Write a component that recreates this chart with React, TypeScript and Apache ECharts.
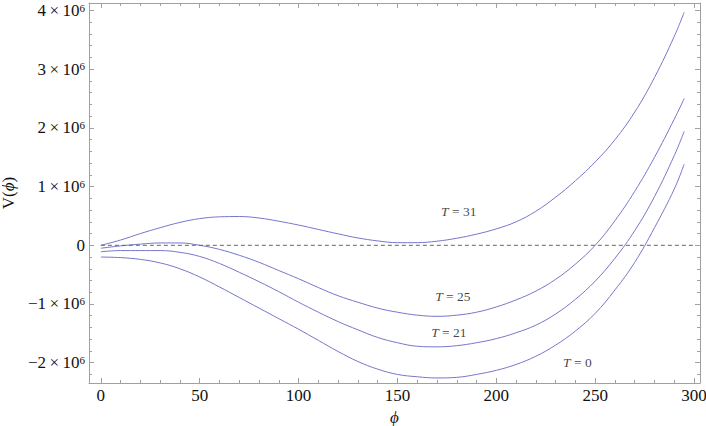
import { useEffect, useRef } from "react";
import * as echarts from "echarts";

// φ sample positions
const PHI = [0, 10, 20, 30, 40, 50, 60, 70, 80, 90, 100, 110, 120, 130, 140, 150, 160, 170, 180, 190, 200, 210, 220, 230, 240, 250, 260, 270, 280, 290, 295];
// V(φ) in units of 10^6
const V_T31 = [0.0, 0.09, 0.2, 0.3, 0.39, 0.455, 0.485, 0.49, 0.465, 0.41, 0.345, 0.27, 0.195, 0.125, 0.075, 0.045, 0.045, 0.07, 0.12, 0.19, 0.28, 0.4, 0.58, 0.82, 1.1, 1.42, 1.8, 2.27, 2.86, 3.56, 3.97];
const V_T25 = [-0.05, -0.01, 0.02, 0.04, 0.04, 0.0, -0.07, -0.17, -0.29, -0.43, -0.57, -0.72, -0.86, -0.97, -1.07, -1.14, -1.19, -1.21, -1.19, -1.14, -1.05, -0.93, -0.78, -0.58, -0.32, 0.0, 0.42, 0.92, 1.5, 2.15, 2.5];
const V_T21 = [-0.11, -0.09, -0.09, -0.09, -0.12, -0.19, -0.31, -0.46, -0.62, -0.79, -0.97, -1.14, -1.3, -1.44, -1.57, -1.66, -1.72, -1.73, -1.71, -1.66, -1.59, -1.49, -1.36, -1.17, -0.92, -0.61, -0.22, 0.25, 0.83, 1.53, 1.94];
const V_T0 = [-0.2, -0.21, -0.24, -0.3, -0.4, -0.54, -0.71, -0.89, -1.07, -1.25, -1.43, -1.62, -1.81, -1.98, -2.11, -2.2, -2.24, -2.26, -2.25, -2.2, -2.13, -2.03, -1.89, -1.7, -1.46, -1.16, -0.76, -0.29, 0.3, 0.96, 1.38];
const SCALE = 1e6;

const CURVES = [V_T31, V_T25, V_T21, V_T0];
const CURVE_T = ["31", "25", "21", "0"];
const LABEL_PHI = [181, 178, 176, 241];
const LABEL_V = [0.57, -0.87, -1.49, -2.0];

const ZERO_LINE_PHI = [0, 300];

const X_MIN = -6;
const X_MAX = 303;
const Y_MIN = -2.346;
const Y_MAX = 4.128;

const X_TICKS = [0, 50, 100, 150, 200, 250, 300];
const X_MINOR = [10, 20, 30, 40, 60, 70, 80, 90, 110, 120, 130, 140, 160, 170, 180, 190, 210, 220, 230, 240, 260, 270, 280, 290];
const Y_TICKS = [-2, -1, 0, 1, 2, 3, 4];
const Y_MINOR = [-2.2, -1.8, -1.6, -1.4, -1.2, -0.8, -0.6, -0.4, -0.2, 0.2, 0.4, 0.6, 0.8, 1.2, 1.4, 1.6, 1.8, 2.2, 2.4, 2.6, 2.8, 3.2, 3.4, 3.6, 3.8];

const SERIF = "Liberation Serif";
const FRAME = "#a0a0a0";
const CURVE_COLOR = "#7676cc";
const INK = "#111";

export default function App() {
  const ref = useRef<HTMLDivElement>(null);

  useEffect(() => {
    if (!ref.current) return;
    const chart = echarts.init(ref.current, undefined, { renderer: "svg" });

    const xAxisBase = (position: "bottom" | "top", values: number[], len: number, showLine: boolean) => ({
      type: "value",
      position,
      min: X_MIN,
      max: X_MAX,
      axisLine: { show: showLine, onZero: false, lineStyle: { color: FRAME, width: 1 } },
      axisTick: { show: true, inside: true, length: len, customValues: values, lineStyle: { color: FRAME, width: 1 } },
      axisLabel: { show: false, customValues: values },
      splitLine: { show: false },
    });
    const yAxisBase = (position: "left" | "right", values: number[], len: number, showLine: boolean) => ({
      type: "value",
      position,
      min: Y_MIN * SCALE,
      max: Y_MAX * SCALE,
      axisLine: { show: showLine, onZero: false, lineStyle: { color: FRAME, width: 1 } },
      axisTick: { show: true, inside: true, length: len, customValues: values.map((v) => v * SCALE), lineStyle: { color: FRAME, width: 1 } },
      axisLabel: { show: false, customValues: values.map((v) => v * SCALE) },
      splitLine: { show: false },
    });

    const mainX: any = xAxisBase("bottom", X_TICKS, 5, true);
    mainX.axisLabel = {
      show: true,
      customValues: X_TICKS,
      fontFamily: SERIF,
      fontSize: 17,
      color: INK,
      margin: 4,
    };
    mainX.name = "ϕ";
    mainX.nameLocation = "middle";
    mainX.nameGap = 16;
    mainX.nameTextStyle = { fontFamily: SERIF, fontSize: 17, fontStyle: "italic", color: INK, lineHeight: 17 };

    const mainY: any = yAxisBase("left", Y_TICKS, 5, true);
    mainY.axisLabel = {
      show: true,
      customValues: Y_TICKS.map((v) => v * SCALE),
      fontFamily: SERIF,
      fontSize: 17,
      color: INK,
      margin: 4,
      formatter: (v: number) => {
        const k = Math.round(v / SCALE);
        if (k === 0) return "{m|0}";
        return `{m|${k < 0 ? "\u2212" : ""}${Math.abs(k)}\u2009×\u200910}{s|6}`;
      },
      rich: {
        m: { fontFamily: SERIF, fontSize: 17, color: INK },
        s: { fontFamily: SERIF, fontSize: 11, color: INK, verticalAlign: "top", lineHeight: 11 },
      },
    };
    mainY.name = "{n|V(}{i|ϕ}{n|)}";
    mainY.nameLocation = "middle";
    mainY.nameGap = 68;
    mainY.nameTextStyle = {
      fontFamily: SERIF,
      fontSize: 17,
      color: INK,
      rich: {
        n: { fontFamily: SERIF, fontSize: 17, color: INK },
        i: { fontFamily: SERIF, fontSize: 17, fontStyle: "italic", color: INK },
      },
    };

    const series: any[] = CURVES.map((vals, i) => ({
      type: "line",
      name: "T = " + CURVE_T[i],
      xAxisIndex: 0,
      yAxisIndex: 0,
      data: PHI.map((p, j) => [p, vals[j] * SCALE]),
      smooth: 0.4,
      showSymbol: false,
      symbol: "none",
      lineStyle: { color: CURVE_COLOR, width: 1 },
      silent: true,
    }));

    series.push({
      type: "line",
      xAxisIndex: 0,
      yAxisIndex: 0,
      data: ZERO_LINE_PHI.map((p) => [p, 0]),
      symbol: "none",
      lineStyle: { color: "#666", width: 1, type: [4, 3] },
      silent: true,
    });

    series.push({
      type: "scatter",
      xAxisIndex: 0,
      yAxisIndex: 0,
      symbolSize: 1,
      itemStyle: { color: "rgba(0,0,0,0)" },
      data: CURVE_T.map((t, i) => ({ value: [LABEL_PHI[i], LABEL_V[i] * SCALE], t })),
      label: {
        show: true,
        position: "inside",
        formatter: (p: any) => `{i|T}{n| = ${p.data.t}}`,
        fontFamily: SERIF,
        fontSize: 13.5,
        color: INK,
        rich: {
          i: { fontFamily: SERIF, fontSize: 13.5, fontStyle: "italic", color: INK },
          n: { fontFamily: SERIF, fontSize: 13.5, color: INK },
        },
      },
      silent: true,
    });

    chart.setOption({
      animation: false,
      backgroundColor: "#fff",
      textStyle: { fontFamily: SERIF, color: INK },
      grid: { left: 89, right: 6, top: 3, bottom: 43, containLabel: false, outerBoundsMode: "none" },
      xAxis: [
        mainX,
        xAxisBase("bottom", X_MINOR, 3, false),
        xAxisBase("top", X_TICKS, 5, true),
        xAxisBase("top", X_MINOR, 3, false),
      ],
      yAxis: [
        mainY,
        yAxisBase("left", Y_MINOR, 3, false),
        yAxisBase("right", Y_TICKS, 5, true),
        yAxisBase("right", Y_MINOR, 3, false),
      ],
      series,
    });

    return () => chart.dispose();
  }, []);

  return (
    <div
      ref={ref}
      style={{ position: "fixed", left: 0, top: 0, width: 706, height: 426, background: "#fff" }}
    />
  );
}
